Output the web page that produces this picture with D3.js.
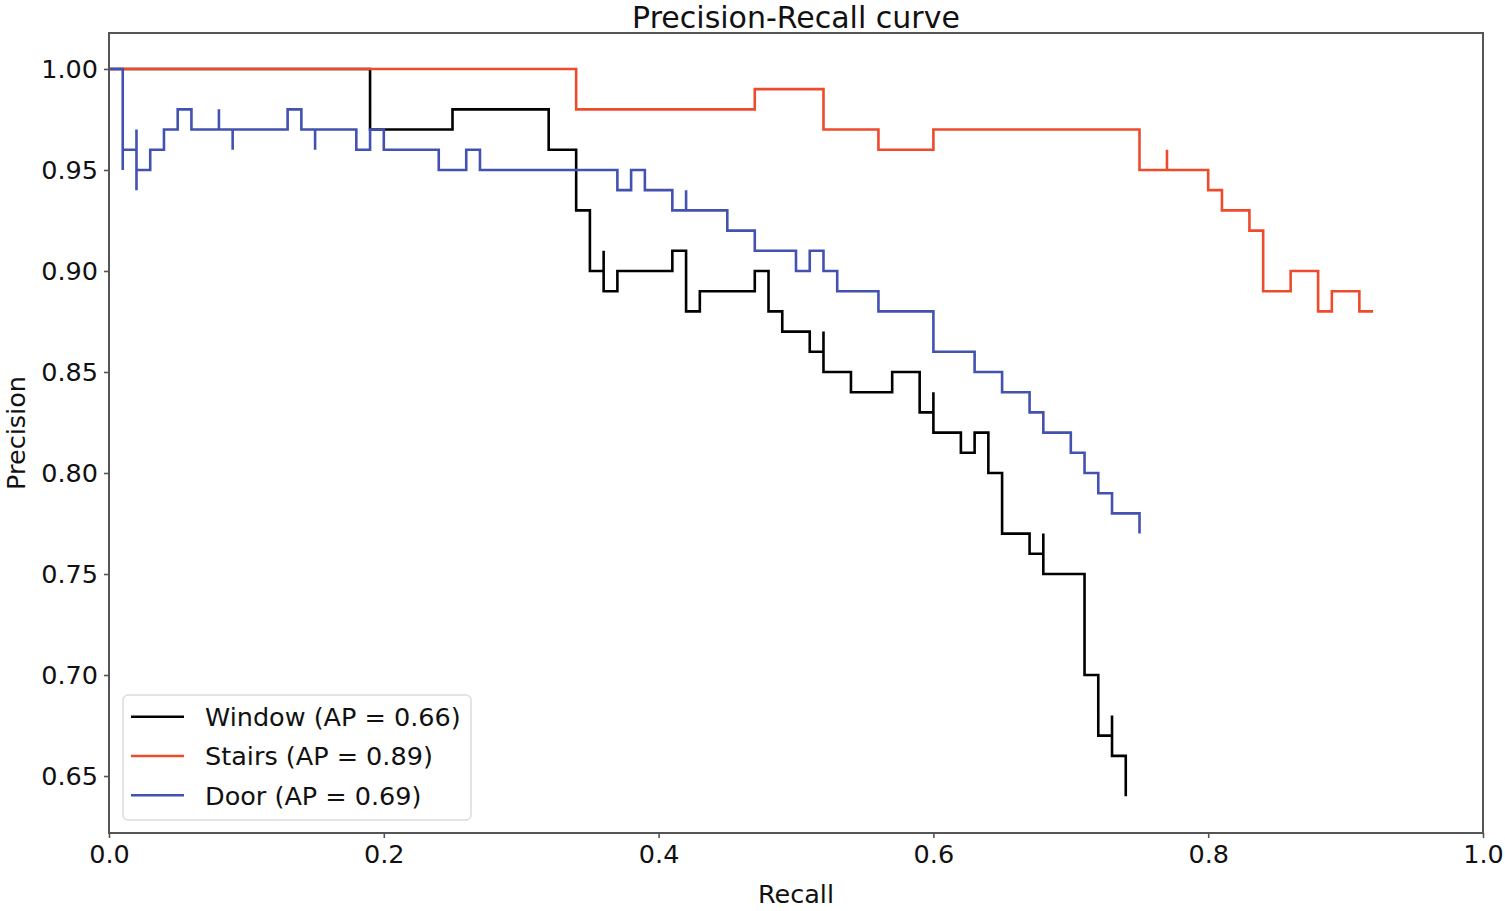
<!DOCTYPE html>
<html>
<head>
<meta charset="utf-8">
<script src="https://cdn.jsdelivr.net/npm/d3@7"></script>
<style>
  html, body { margin: 0; padding: 0; background: #fff; }
  svg { display: block; font-family: 'DejaVu Sans', sans-serif; }
</style>
</head>
<body>
<svg id="chart"></svg>
<script>
// step points (recall, precision), traced left to right
const windowRecall    = [0, 0.19, 0.25, 0.32, 0.34, 0.35, 0.36, 0.36, 0.37, 0.41, 0.42, 0.43, 0.47, 0.48, 0.49, 0.51, 0.52, 0.52, 0.54, 0.57, 0.59, 0.60, 0.60, 0.62, 0.63, 0.64, 0.65, 0.67, 0.68, 0.68, 0.71, 0.72, 0.73, 0.73, 0.74];
const windowPrecision = [1.00, 0.97, 0.98, 0.96, 0.93, 0.90, 0.91, 0.89, 0.90, 0.91, 0.88, 0.89, 0.90, 0.88, 0.87, 0.86, 0.87, 0.85, 0.84, 0.85, 0.83, 0.84, 0.82, 0.81, 0.82, 0.80, 0.77, 0.76, 0.77, 0.75, 0.70, 0.67, 0.68, 0.66, 0.64];

const stairsRecall    = [0, 0.34, 0.47, 0.52, 0.56, 0.60, 0.75, 0.77, 0.77, 0.80, 0.81, 0.83, 0.84, 0.86, 0.88, 0.89, 0.91, 0.92];
const stairsPrecision = [1.00, 0.98, 0.99, 0.97, 0.96, 0.97, 0.95, 0.96, 0.95, 0.94, 0.93, 0.92, 0.89, 0.90, 0.88, 0.89, 0.88, 0.88];

const doorRecall    = [0, 0.01, 0.01, 0.02, 0.02, 0.02, 0.03, 0.04, 0.05, 0.06, 0.08, 0.08, 0.09, 0.09, 0.13, 0.14, 0.15, 0.15, 0.18, 0.19, 0.20, 0.24, 0.26, 0.27, 0.37, 0.38, 0.39, 0.41, 0.42, 0.42, 0.45, 0.47, 0.50, 0.51, 0.52, 0.53, 0.56, 0.60, 0.63, 0.65, 0.67, 0.68, 0.70, 0.71, 0.72, 0.73, 0.75];
const doorPrecision = [1.00, 0.95, 0.96, 0.97, 0.94, 0.95, 0.96, 0.97, 0.98, 0.97, 0.98, 0.97, 0.96, 0.97, 0.98, 0.97, 0.96, 0.97, 0.96, 0.97, 0.96, 0.95, 0.96, 0.95, 0.94, 0.95, 0.94, 0.93, 0.94, 0.93, 0.92, 0.91, 0.90, 0.91, 0.90, 0.89, 0.88, 0.86, 0.85, 0.84, 0.83, 0.82, 0.81, 0.80, 0.79, 0.78, 0.77];

const seriesNames  = ['Window (AP = 0.66)', 'Stairs (AP = 0.89)', 'Door (AP = 0.69)'];
const seriesColors = ['#000000', '#ee4a2c', '#4352b0'];

const xTicks = [0.0, 0.2, 0.4, 0.6, 0.8, 1.0];
const yTicks = [0.65, 0.70, 0.75, 0.80, 0.85, 0.90, 0.95, 1.00];

const W = 1505, H = 911;
const margin = {top: 33, right: 22, bottom: 78, left: 109};
const width = W - margin.left - margin.right;
const height = H - margin.top - margin.bottom;

const svg = d3.select('#chart').attr('width', W).attr('height', H);
const g = svg.append('g').attr('transform', 'translate(' + margin.left + ',' + margin.top + ')');

const x = d3.scaleLinear().domain([0, 1]).range([0, width]);
const y = d3.scaleLinear().domain([0.6218, 1.0178]).range([height, 0]);

// axes
const xAxis = g.append('g')
  .attr('transform', 'translate(0,' + height + ')')
  .call(d3.axisBottom(x).tickValues(xTicks).tickFormat(d3.format('.1f')).tickSize(5).tickPadding(7));
const yAxis = g.append('g')
  .call(d3.axisLeft(y).tickValues(yTicks).tickFormat(d3.format('.2f')).tickSize(5).tickPadding(6));

[xAxis, yAxis].forEach(a => {
  a.select('.domain').remove();
  a.selectAll('line').attr('stroke', '#555').attr('stroke-width', 1.6);
  a.selectAll('text').attr('font-size', 25.5).attr('fill', '#111').attr('font-family', "'DejaVu Sans', sans-serif");
});

// curves
const line = d3.line().x(d => x(d[0])).y(d => y(d[1])).curve(d3.curveStepAfter);
const series = [
  d3.zip(windowRecall, windowPrecision),
  d3.zip(stairsRecall, stairsPrecision),
  d3.zip(doorRecall, doorPrecision)
];
series.forEach((pts, i) => {
  g.append('path')
    .datum(pts)
    .attr('fill', 'none')
    .attr('stroke', seriesColors[i])
    .attr('stroke-width', 2.6)
    .attr('stroke-linejoin', 'miter')
    .attr('d', line);
});

// frame
g.append('rect')
  .attr('width', width).attr('height', height)
  .attr('fill', 'none').attr('stroke', '#555').attr('stroke-width', 2);

// legend
const leg = g.append('g').attr('transform', 'translate(14,' + (height - 138) + ')');
leg.append('rect')
  .attr('width', 348).attr('height', 125).attr('rx', 5)
  .attr('fill', '#fff').attr('fill-opacity', 0.85)
  .attr('stroke', '#dcdcdc').attr('stroke-width', 1.5);
seriesNames.forEach((name, i) => {
  const row = leg.append('g').attr('transform', 'translate(0,' + (21.7 + i * 39.3) + ')');
  row.append('line').attr('x1', 8).attr('x2', 61)
    .attr('stroke', seriesColors[i]).attr('stroke-width', 2.6);
  row.append('text').attr('x', 82).attr('dy', '0.37em')
    .attr('font-size', 25.5).attr('fill', '#111').text(name);
});

// title and labels (nudged just inside the picture edges)
svg.append('text')
  .attr('x', margin.left + width / 2).attr('y', 28)
  .attr('text-anchor', 'middle').attr('font-size', 30).attr('fill', '#111')
  .text('Precision-Recall curve');
svg.append('text')
  .attr('x', margin.left + width / 2).attr('y', 903)
  .attr('text-anchor', 'middle').attr('font-size', 25.5).attr('fill', '#111')
  .text('Recall');
svg.append('text')
  .attr('transform', 'translate(25,' + (margin.top + height / 2) + ') rotate(-90)')
  .attr('text-anchor', 'middle').attr('font-size', 25.5).attr('fill', '#111')
  .text('Precision');
</script>
</body>
</html>
